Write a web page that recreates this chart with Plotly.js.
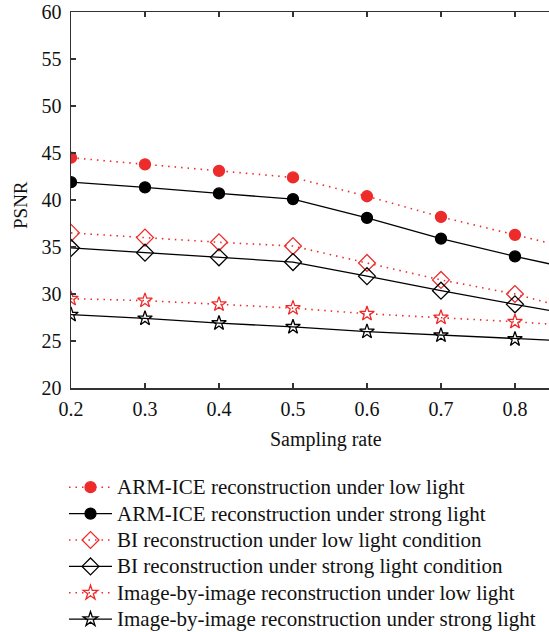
<!DOCTYPE html>
<html>
<head>
<meta charset="utf-8">
<script src="https://cdn.plot.ly/plotly-3.0.1.min.js"></script>
<style>
html,body{margin:0;padding:0;background:#fff;}
#chart{width:549px;height:632px;}
#chart .legendtext{font-size:21px !important;}
#chart .legend, #chart .legend *{clip-path:none !important;}
</style>
</head>
<body>
<div id="chart"></div>
<script>
const samplingRate = [0.2, 0.3, 0.4, 0.5, 0.6, 0.7, 0.8, 0.9];
const armLow    = [44.5, 43.8, 43.1, 42.4, 40.4, 38.2, 36.3, 34.4];
const armStrong = [41.9, 41.35, 40.7, 40.1, 38.1, 35.9, 34.0, 32.3];
const biLow     = [36.5, 36.0, 35.5, 35.1, 33.3, 31.5, 30.0, 27.9];
const biStrong  = [34.9, 34.4, 33.9, 33.4, 31.9, 30.35, 28.9, 27.5];
const imgLow    = [29.5, 29.3, 28.9, 28.5, 27.9, 27.5, 27.05, 26.5];
const imgStrong = [27.8, 27.4, 26.9, 26.5, 26.0, 25.6, 25.2, 24.9];
const seriesNames = [
  "ARM-ICE reconstruction under low light",
  "ARM-ICE reconstruction under strong light",
  "BI reconstruction under low light condition",
  "BI reconstruction under strong light condition",
  "Image-by-image reconstruction under low light",
  "Image-by-image reconstruction under strong light"
];
const xTicks = [0.2, 0.3, 0.4, 0.5, 0.6, 0.7, 0.8];
const yTicks = [20, 25, 30, 35, 40, 45, 50, 55, 60];
const xTitle = "Sampling rate";
const yTitle = "PSNR";

const RED = "#ee2b2b", BLACK = "#000000";
const DOTTED = "1.5px,5px";
function tr(y, name, color, dash, symbol, size) {
  return {
    x: samplingRate, y: y, name: name, type: "scatter", mode: "lines+markers",
    line: {color: color, width: dash === DOTTED ? 1.6 : 1.3, dash: dash},
    marker: {symbol: symbol, size: size, color: color, line: {color: color, width: 1.3}}
  };
}
const data = [
  tr(armLow, seriesNames[0], RED, DOTTED, "circle", 11),
  tr(armStrong, seriesNames[1], BLACK, "solid", "circle", 11),
  tr(biLow, seriesNames[2], RED, DOTTED, "diamond-open", 13),
  tr(biStrong, seriesNames[3], BLACK, "solid", "diamond-open", 13),
  tr(imgLow, seriesNames[4], RED, DOTTED, "star-open", 11),
  tr(imgStrong, seriesNames[5], BLACK, "solid", "star-open", 11)
];
const FONT = "Liberation Serif, Times New Roman, serif";
const PLOT_L = 71, PLOT_T = 12, PLOT_W = 478, PLOT_H = 376;
const layout = {
  width: 549, height: 632,
  margin: {l: PLOT_L, r: 0, t: PLOT_T, b: 632 - PLOT_T - PLOT_H, autoexpand: false},
  paper_bgcolor: "#fff", plot_bgcolor: "#fff",
  font: {family: FONT, size: 20, color: "#111"},
  showlegend: true,
  xaxis: {
    range: [0.2, 0.846], tickvals: xTicks, ticktext: xTicks.map(v => v.toFixed(1)),
    ticks: "inside", ticklen: 5, tickcolor: "#333", tickwidth: 1.2, tickangle: 0,
    showline: true, linecolor: "#333", linewidth: 1.5, mirror: "ticks",
    showgrid: false, zeroline: false, automargin: false,
    tickfont: {family: FONT, size: 20}, ticklabelstandoff: 2
  },
  yaxis: {
    range: [20, 60], tickvals: yTicks,
    ticks: "inside", ticklen: 5, tickcolor: "#333", tickwidth: 1.2,
    showline: true, linecolor: "#333", linewidth: 1.5,
    showgrid: false, zeroline: false, automargin: false,
    tickfont: {family: FONT, size: 20}, ticklabelstandoff: 4
  },
  annotations: [
    {text: xTitle, xref: "paper", yref: "paper", x: (326 - PLOT_L) / PLOT_W, y: (PLOT_T + PLOT_H - 439) / PLOT_H,
     xanchor: "center", yanchor: "middle", showarrow: false, font: {family: FONT, size: 20}},
    {text: yTitle, xref: "paper", yref: "paper", x: (20 - PLOT_L) / PLOT_W, y: (PLOT_T + PLOT_H - 205) / PLOT_H, textangle: -90,
     xanchor: "center", yanchor: "middle", showarrow: false, font: {family: FONT, size: 19}}
  ],
  legend: {
    xref: "container", yref: "container", x: 64/549, y: 1 - 469/632,
    xanchor: "left", yanchor: "top",
    font: {family: FONT, size: 18, color: "#111"},
    bgcolor: "rgba(0,0,0,0)", itemwidth: 43, tracegroupgap: 0
  }
};
Plotly.newPlot("chart", data, layout, {staticPlot: true});
</script>
</body>
</html>
